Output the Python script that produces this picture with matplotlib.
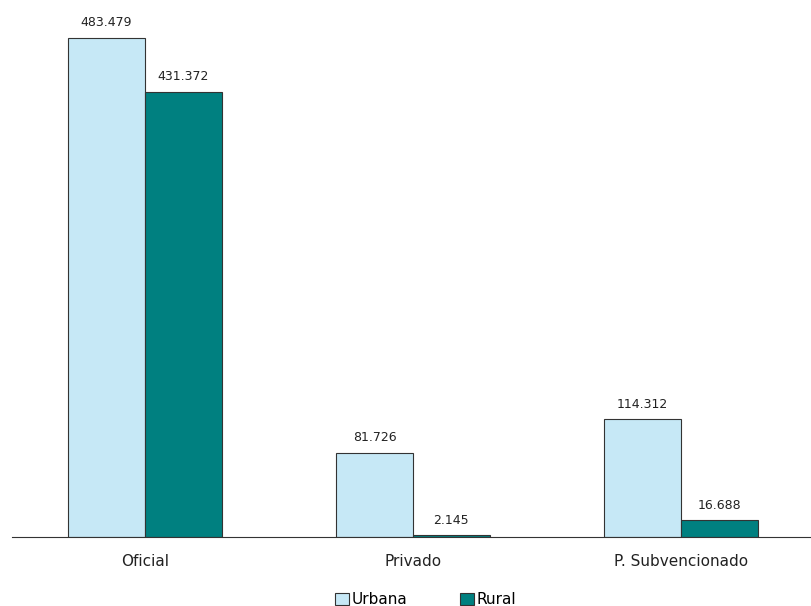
import numpy as np
from matplotlib import pyplot as plt
from matplotlib.patches import Patch

categories = ['Oficial', 'Privado', 'P. Subvencionado']
urbana = [483.479, 81.726, 114.312]
rural = [431.372, 2.145, 16.688]
series_names = ['Urbana', 'Rural']

c_urb = '#C6E8F6'
c_rur = '#008080'

fig = plt.figure(figsize=(8.11, 6.06), dpi=100)
ax = fig.add_axes([12 / 811, 69 / 606, 799 / 811, 537 / 606])

x = np.arange(len(categories))
w = 0.286
b1 = ax.bar(x - w / 2, urbana, w, color=c_urb, edgecolor='#333333', linewidth=0.8)
b2 = ax.bar(x + w / 2, rural, w, color=c_rur, edgecolor='#333333', linewidth=0.8)

def fmt(v):
    return f'{v:.3f}'

for bars, vals in ((b1, urbana), (b2, rural)):
    for r, v in zip(bars, vals):
        ax.text(r.get_x() + r.get_width() / 2, v + 8, fmt(v),
                ha='center', va='bottom', fontsize=9, color='#222222')

ax.set_xlim(-0.496, 2.485)
ax.set_ylim(0, 520)
ax.set_xticks(x)
ax.set_xticklabels(categories, fontsize=11, color='#222222')
ax.tick_params(axis='x', length=0, pad=12)
ax.set_yticks([])
for s in ('top', 'right', 'left'):
    ax.spines[s].set_visible(False)
ax.spines['bottom'].set_color('#333333')
ax.spines['bottom'].set_linewidth(0.8)

handles = [Patch(facecolor=c_urb, edgecolor='#333333', linewidth=0.8),
           Patch(facecolor=c_rur, edgecolor='#333333', linewidth=0.8)]
fig.legend(handles, series_names, loc='lower center', bbox_to_anchor=(0.525, -0.025),
           ncol=2, frameon=False, fontsize=11, handlelength=0.9, handleheight=0.9,
           handletextpad=0.2, columnspacing=3.4)

plt.savefig('out.png')
